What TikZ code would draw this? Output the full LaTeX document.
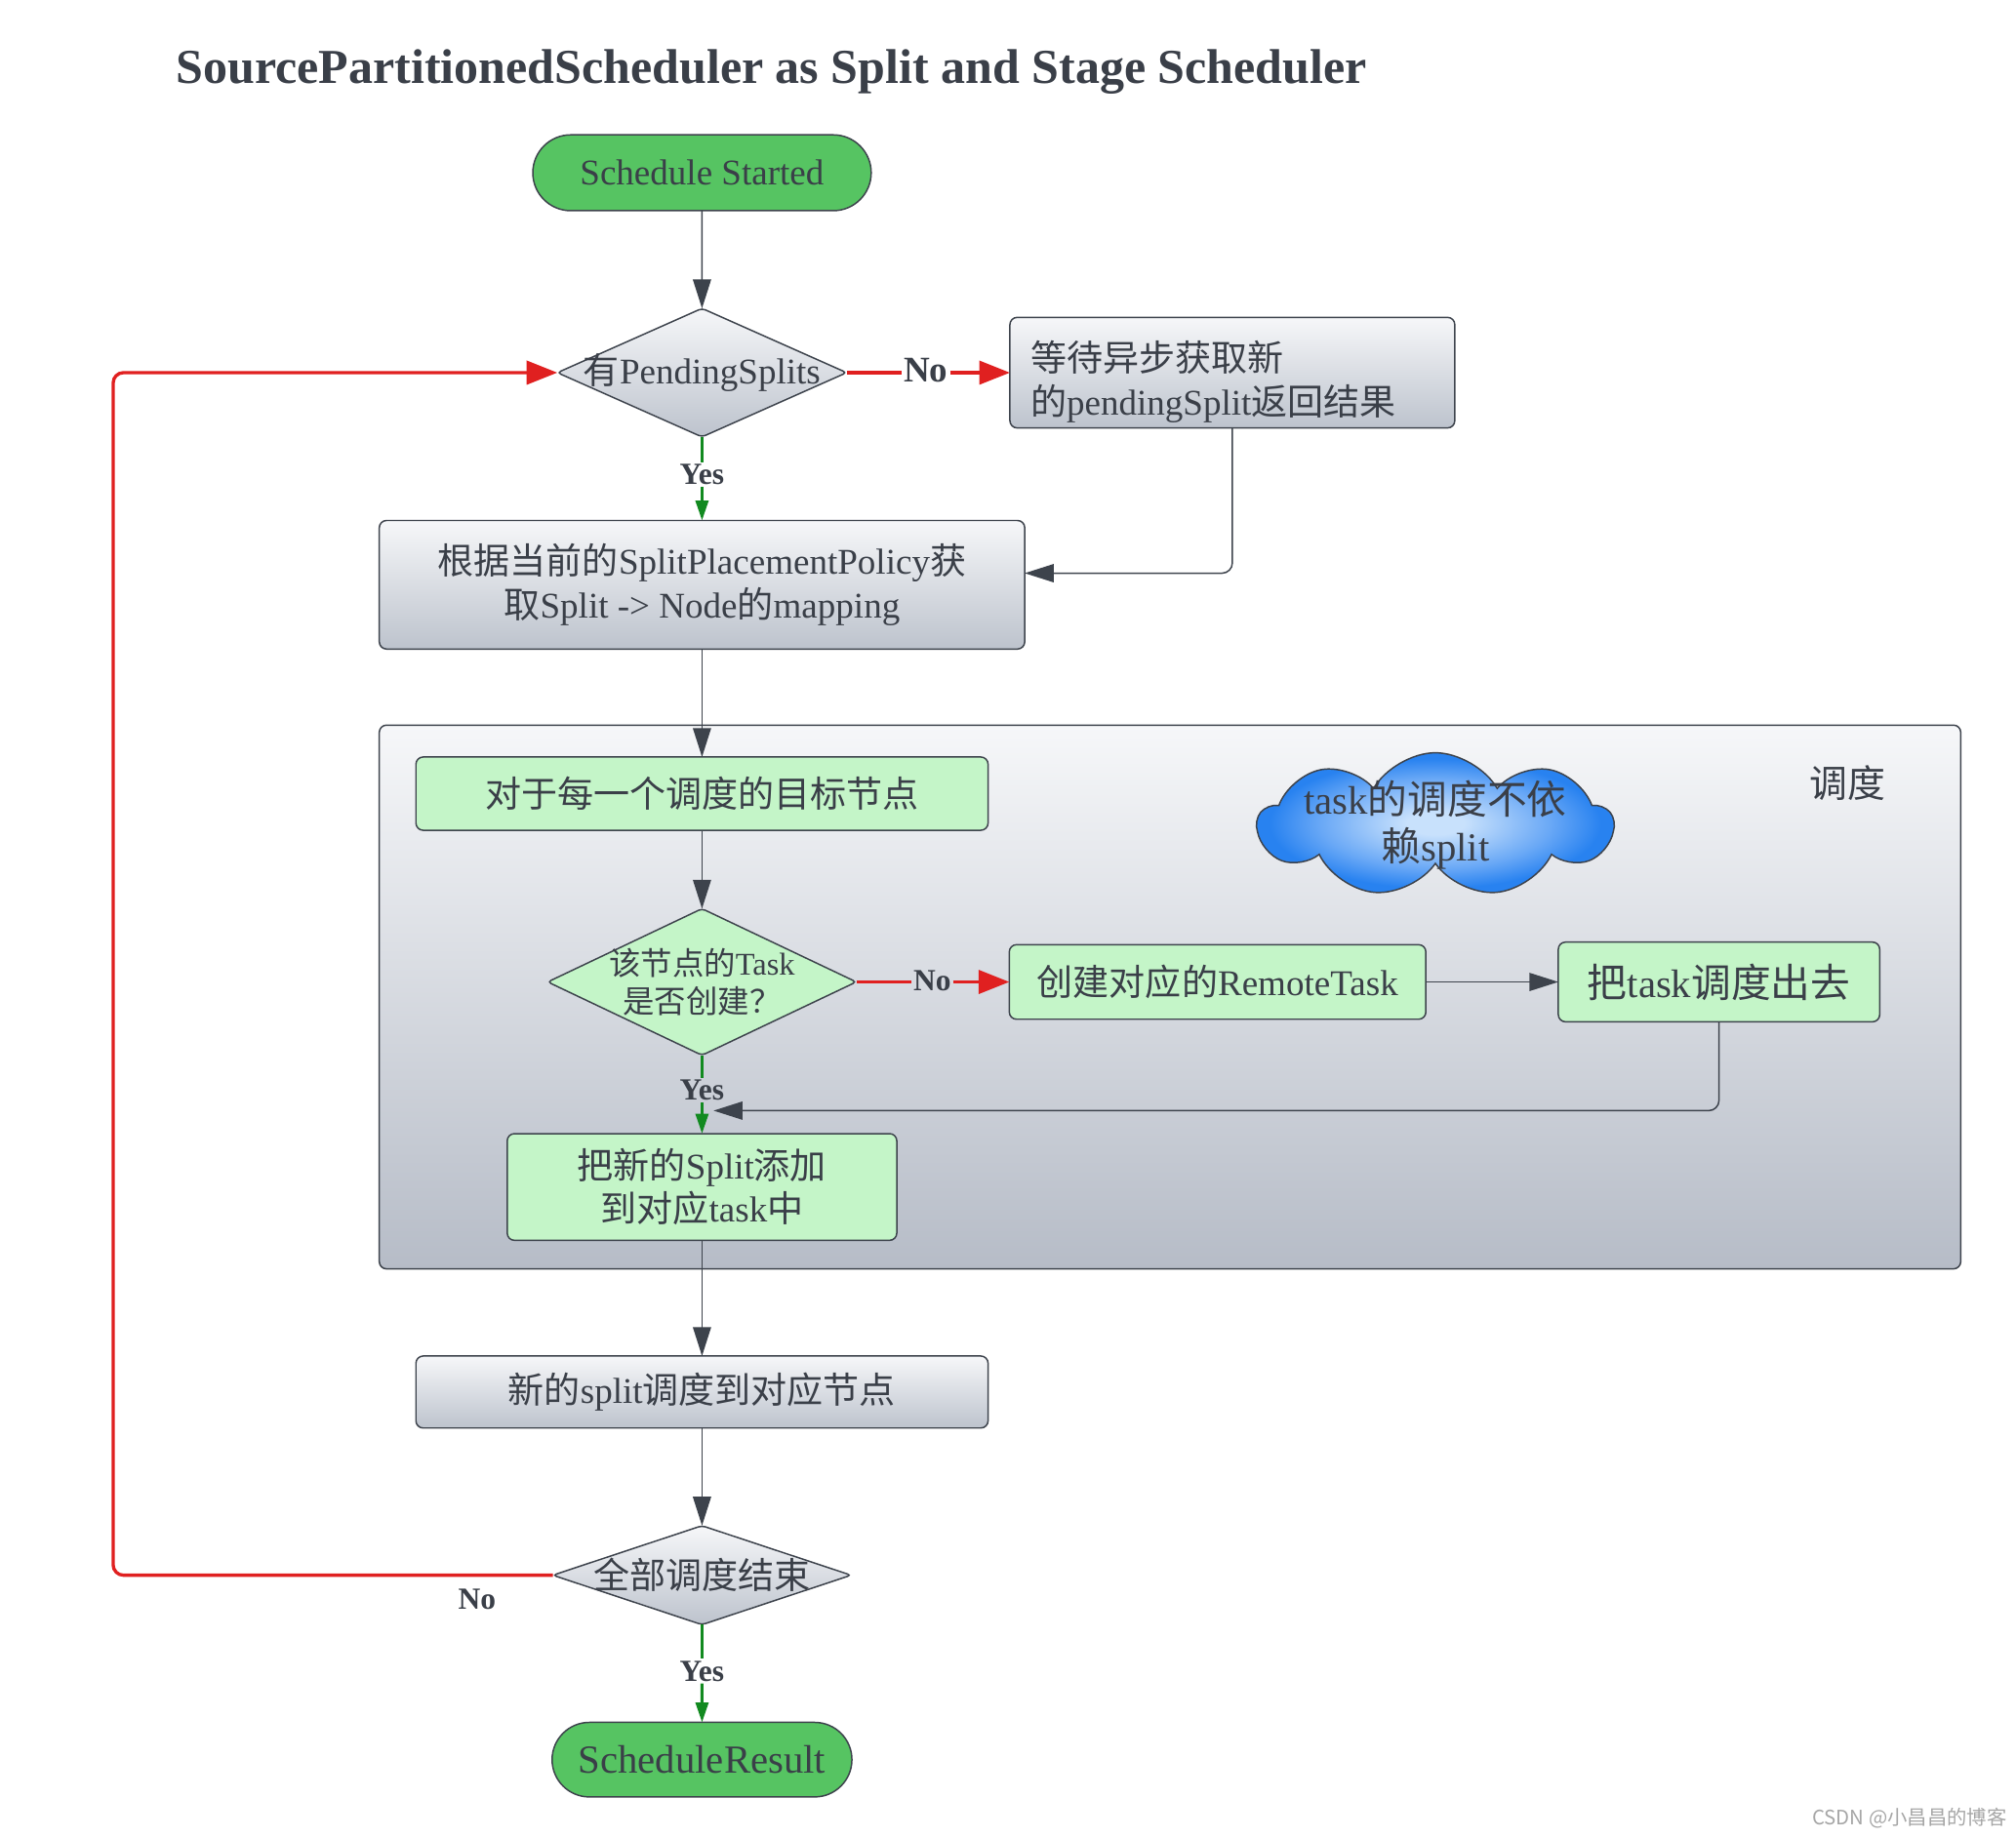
\documentclass[tikz,border=0pt]{standalone}
\usepackage{fontspec}
\setmainfont{Liberation Serif}
\newfontfamily\cjk{Noto Sans CJK SC}
\usetikzlibrary{arrows.meta}
\usetikzlibrary{positioning}
\usetikzlibrary{shapes.misc}
\usetikzlibrary{shapes.geometric}
\usetikzlibrary{shapes.symbols}

\newcommand{\zh}[1]{{\cjk #1}}

\definecolor{inkgray}{RGB}{58,63,72}
\definecolor{linegray}{RGB}{61,67,76}
\definecolor{nored}{RGB}{224,32,32}
\definecolor{yesgreen}{RGB}{18,138,32}
\definecolor{termgreen}{RGB}{86,196,98}
\definecolor{taskgreen}{RGB}{196,245,200}
\definecolor{shadetop}{RGB}{246,247,249}
\definecolor{shadebot}{RGB}{189,195,205}
\definecolor{groupbot}{RGB}{182,188,199}
\definecolor{cloudin}{RGB}{200,225,252}
\definecolor{cloudmid}{RGB}{105,168,246}
\definecolor{cloudout}{RGB}{40,130,240}

% light in the middle, blue at the rim
\pgfdeclareradialshading{cloudshade}{\pgfpoint{0bp}{0bp}}{%
  color(0bp)=(cloudin); color(4bp)=(cloudin); color(16bp)=(cloudmid); color(23bp)=(cloudout); color(50bp)=(cloudout)}

\tikzset {
  flow node/.style = {
    draw = linegray,
    line width = 0.8pt,
    outer sep = 0pt,
    text = inkgray,
    font = \fontsize{20}{24}\selectfont,
    align = center
  },
  % start and end of the flow
  term/.style = {
    flow node,
    rounded rectangle,
    fill = termgreen,
    inner sep = 0.2cm
  },
  box/.style = {
    flow node,
    rectangle,
    rounded corners = 4pt,
    inner sep = 0.2cm
  },
  % gray process box
  proc/.style = {
    box,
    top color = shadetop,
    bottom color = shadebot
  },
  % green process box inside the group
  task/.style = {
    box,
    fill = taskgreen
  },
  % decisions
  test/.style = {
    flow node,
    diamond,
    rounded corners = 2pt,
    top color = shadetop,
    bottom color = shadebot,
    inner sep = -10pt
  },
  testg/.style = {
    flow node,
    diamond,
    rounded corners = 2pt,
    fill = taskgreen,
    inner sep = -10pt
  },
  % the scheduling group behind the inner nodes
  group/.style = {
    draw = linegray,
    line width = 0.8pt,
    rounded corners = 4pt,
    top color = shadetop,
    bottom color = groupbot,
    minimum width = 30.75cm,
    minimum height = 10.575cm,
    inner sep = 0
  },
  remark/.style = {
    flow node,
    cloud,
    cloud puffs = 9,
    cloud puff arc = 120,
    cloud ignores aspect,
    shading = cloudshade,
    font = \fontsize{22}{26}\selectfont,
    inner sep = -12pt,
    minimum width = 6.9cm,
    minimum height = 2.8cm
  },
  % yes / no labels
  lbl/.style = {
    text = inkgray,
    font = \fontsize{17}{19}\selectfont\bfseries,
    inner sep = 1pt
  },
  node distance = 1.5cm
}
\tikzset {
  link/.style = {
    draw = linegray,
    line width = 0.8pt,
    rounded corners = 2mm
  },
  arr/.style = {
    link,
    -{Triangle[length=16pt,width=10pt]}
  },
  % red "No" branch
  nolink/.style = {
    link,
    draw = nored,
    line width = 1.8pt
  },
  noarr/.style = {
    nolink,
    -{Triangle[length=17pt,width=13pt]}
  },
  % green "Yes" branch
  yeslink/.style = {
    link,
    draw = yesgreen,
    line width = 1.6pt
  },
  yesarr/.style = {
    yeslink,
    -{Triangle[length=11pt,width=7pt]}
  }
}

\begin{document}
\begin{tikzpicture}
    \path[use as bounding box] (0,0) rectangle (39.2,-35.73);
    \node[anchor=base west, text=inkgray, font=\fontsize{27}{32}\selectfont\bfseries] (title) at (3.3,-1.63) {SourcePartitionedScheduler as Split and Stage Scheduler};

    % group first, so that it stays behind
    \node[group] (grp) at (22.75,-19.39) {};
    \node[text=inkgray, font=\fontsize{21}{25}\selectfont] (grp-label) at (35.93,-15.23) {\zh{调度}};

    \node[term, minimum width=6.98cm, minimum height=1.475cm] (start) at (13.65,-3.36) {Schedule Started};
    \node[test, shape aspect=2.25, minimum width=5.625cm, minimum height=2.5cm] (has-pending) [below=1.9cm of start] {\zh{有}PendingSplits};
    \node[proc, align=left, text width=7.85cm, inner xsep=0.4cm, inner ysep=0.05cm, minimum height=2.15cm] (wait-split) [right=3.175cm of has-pending] {\rule{0pt}{0.95cm}\zh{等待异步获取新}\\\zh{的}pendingSplit\zh{返回结果}};
    \node[proc, minimum width=12.55cm, minimum height=2.5cm] (map-split) [below=1.625cm of has-pending] {\zh{根据当前的}SplitPlacementPolicy\zh{获}\\\zh{取}Split -> Node\zh{的}mapping};
    \node[task, minimum width=11.125cm, minimum height=1.425cm] (each-node) [below=2.1cm of map-split] {\zh{对于每一个调度的目标节点}};
    \node[remark] (no-split) at (27.91,-16.04) {task\zh{的调度不依}\\\zh{赖}split};
    \node[testg, shape aspect=2.1, minimum width=6cm, minimum height=2.85cm, font=\fontsize{17.5}{21}\selectfont] (task-created) [below=1.525cm of each-node] {\zh{该节点的}Task\\\zh{是否创建？}};
    \node[task, minimum width=8.1cm, minimum height=1.45cm] (create-task) [right=2.975cm of task-created] {\zh{创建对应的}RemoteTask};
    \node[task, minimum width=6.25cm, minimum height=1.55cm, font=\fontsize{22}{26}\selectfont] (dispatch) [right=2.575cm of create-task] {\zh{把}task\zh{调度出去}};
    \node[task, minimum width=7.575cm, minimum height=2.075cm] (add-split) [below=1.525cm of task-created] {\zh{把新的}Split\zh{添加}\\\zh{到对应}task\zh{中}};
    \node[proc, minimum width=11.125cm, minimum height=1.4cm] (assign-split) [below=2.25cm of add-split] {\zh{新的}split\zh{调度到对应节点}};
    \node[test, shape aspect=3, minimum width=5.8cm, minimum height=1.925cm] (all-done) [below=1.9cm of assign-split] {\zh{全部调度结束}};
    \node[term, minimum width=6.23cm, minimum height=1.45cm, font=\fontsize{22}{26}\selectfont] (result) [below=1.9cm of all-done] {ScheduleResult};

    \node[lbl, font=\fontsize{20}{22}\selectfont\bfseries] (no-wait) at (18.0,-7.2) {No};
    \node[lbl] (yes-map) at (13.65,-9.225) {Yes};
    \node[lbl] (no-create) at (18.125,-19.07) {No};
    \node[lbl] (yes-add) at (13.65,-21.2) {Yes};
    \node[lbl] (no-again) at (9.275,-31.1) {No};
    \node[lbl] (yes-end) at (13.65,-32.5) {Yes};
    \coordinate (merge) at (13.875,-21.6);
    \coordinate (back) at (2.2,-19);

    \node[text=gray!70, font=\cjk\fontsize{11}{13}\selectfont] (mark) at (37.13,-35.35) {CSDN @小昌昌的博客};

    \draw[arr] (start) -- (has-pending);
    \draw[nolink] (has-pending) -- (no-wait.west |- has-pending);
    \draw[noarr] (no-wait.east |- has-pending) -- (wait-split);
    \draw[yeslink] (has-pending) -- (yes-map);
    \draw[yesarr] (yes-map) -- (map-split);
    \draw[arr] (wait-split.south) |- ([yshift=0.225cm]map-split.east);

    \draw[arr] (map-split) -- (each-node);
    \draw[arr] (each-node) -- (task-created);
    \draw[nolink] (task-created) -- (no-create.west |- task-created);
    \draw[noarr] (no-create.east |- task-created) -- (create-task);
    \draw[arr] (create-task) -- (dispatch);
    \draw[arr] (dispatch.south) |- (merge);
    \draw[yeslink] (task-created) -- (yes-add);
    \draw[yesarr] (yes-add) -- (add-split);

    \draw[arr] (add-split) -- (assign-split);
    \draw[arr] (assign-split) -- (all-done);
    \draw[noarr] (all-done.west) -| (back) |- (has-pending.west);
    \draw[yeslink] (all-done) -- (yes-end);
    \draw[yesarr] (yes-end) -- (result);
  \end{tikzpicture}
\end{document}
